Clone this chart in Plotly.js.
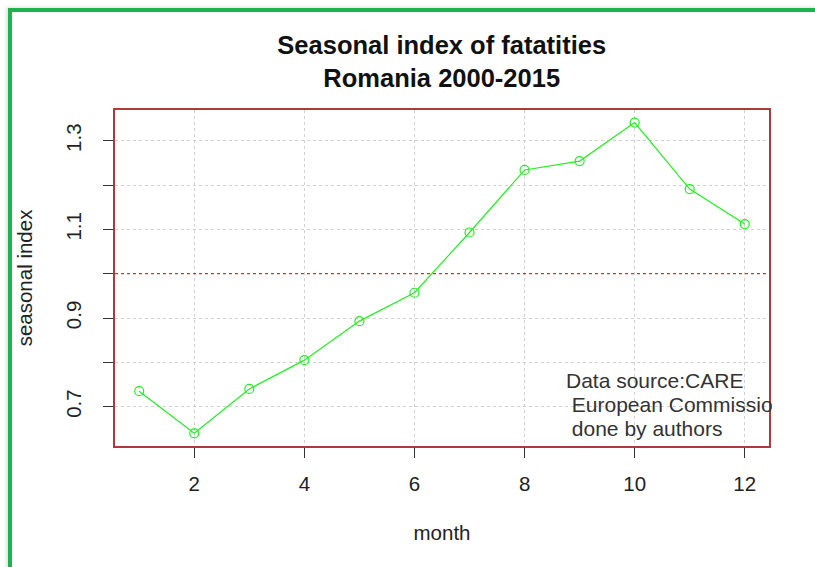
<!DOCTYPE html>
<html>
<head>
<meta charset="utf-8">
<script src="https://cdn.plot.ly/plotly-3.0.1.min.js"></script>
<style>
  html, body { margin: 0; padding: 0; background: #ffffff; overflow: hidden; }
  #frame { position: absolute; left: 8px; top: 8px; width: 900px; height: 700px;
           border-left: 4px solid #21b14f; border-top: 4px solid #21b14f;
           box-shadow: -2px -1px 3px rgba(0,0,0,0.12); }
  #chart { position: absolute; left: 0; top: 0; width: 815px; height: 567px; }
</style>
</head>
<body>
<div id="frame"></div>
<div id="chart"></div>
<script>
// Data
const months = [1, 2, 3, 4, 5, 6, 7, 8, 9, 10, 11, 12];
const seasonalIndex = [0.735, 0.640, 0.740, 0.805, 0.893, 0.957, 1.093, 1.234, 1.254, 1.341, 1.191, 1.112];
const baseline = 1.0;
const xTickVals = [2, 4, 6, 8, 10, 12];
const yTickVals = [0.7, 0.8, 0.9, 1.0, 1.1, 1.2, 1.3];
const yTickText = ['0.7', '', '0.9', '', '1.1', '', '1.3'];
const annotationLines = ['Data source:CARE', '\u00a0European Commissio', '\u00a0done by authors'];

const trace = {
  x: months,
  y: seasonalIndex,
  type: 'scatter',
  mode: 'lines+markers',
  line: { color: '#22ee22', width: 1.2 },
  marker: { symbol: 'circle-open', size: 9, color: '#22ee22', line: { width: 1.2, color: '#22ee22' } },
  hoverinfo: 'x+y',
  showlegend: false
};

const fontFam = 'Liberation Sans, Arial, sans-serif';

// annotation block layout (position of the note, in axis units)
const noteX = 8.717;
const noteTopY = 0.760;
const noteLineStep = 0.055;

const layout = {
  width: 815,
  height: 567,
  paper_bgcolor: 'rgba(0,0,0,0)',
  plot_bgcolor: '#ffffff',
  margin: { l: 115, r: 46, t: 110, b: 121, pad: 0 },
  font: { family: fontFam, color: '#222222', size: 20 },
  title: {
    text: 'Seasonal index of fatatities<br>Romania 2000-2015',
    font: { family: fontFam, size: 25.5, color: '#111111', weight: 'bold' },
    x: 0.542, xanchor: 'center',
    y: 1 - 54 / 567, yref: 'container', yanchor: 'middle'
  },
  xaxis: {
    range: [0.56, 12.44],
    tickvals: xTickVals,
    ticktext: xTickVals.map(String),
    ticks: 'outside', ticklen: 10, tickwidth: 1, tickcolor: '#333333',
    ticklabelstandoff: 8,
    showgrid: true, gridcolor: '#d0d0d0', griddash: 'dot', gridwidth: 1,
    zeroline: false,
    showline: true, mirror: true, linecolor: '#b03a3a', linewidth: 2,
    tickfont: { size: 20.5, color: '#222222' },
    title: { text: 'month', font: { size: 20.5, color: '#222222' }, standoff: 32 }
  },
  yaxis: {
    range: [0.6113, 1.3693],
    tickvals: yTickVals,
    ticktext: yTickText,
    tickangle: -90,
    ticks: 'outside', ticklen: 10, tickwidth: 1, tickcolor: '#333333',
    ticklabelstandoff: 14,
    showgrid: true, gridcolor: '#d0d0d0', griddash: 'dot', gridwidth: 1,
    zeroline: false,
    showline: true, mirror: true, linecolor: '#b03a3a', linewidth: 2,
    tickfont: { size: 20.5, color: '#222222' },
    title: { text: 'seasonal index', font: { size: 20.5, color: '#222222' }, standoff: 24 }
  },
  shapes: [{
    type: 'line', xref: 'paper', yref: 'y',
    x0: 0, x1: 1, y0: baseline, y1: baseline,
    line: { color: '#c03a3a', width: 1.2, dash: 'dot' },
    layer: 'above'
  }],
  annotations: annotationLines.map((t, i) => ({
    xref: 'x', yref: 'y',
    x: noteX, y: noteTopY - i * noteLineStep,
    xanchor: 'left', yanchor: 'middle', align: 'left',
    text: t,
    showarrow: false,
    font: { family: fontFam, size: 21, color: '#333333' }
  }))
};

Plotly.newPlot('chart', [trace], layout, { displayModeBar: false, staticPlot: true });
</script>
</body>
</html>
